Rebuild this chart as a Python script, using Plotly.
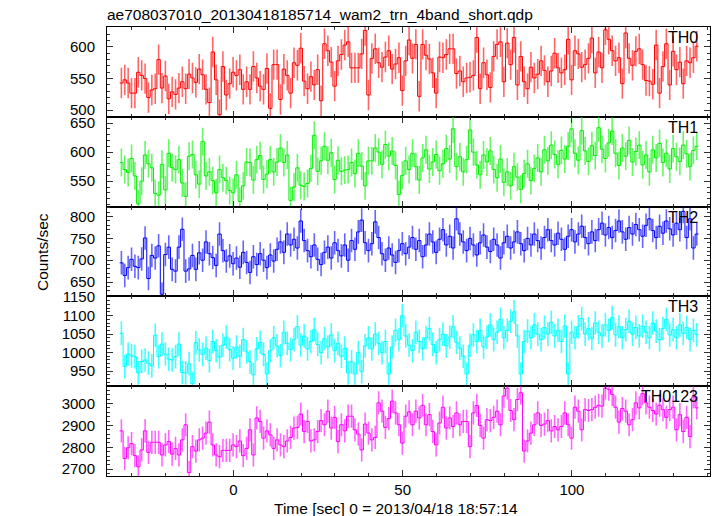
import numpy as np
import plotly.graph_objects as go
from plotly.subplots import make_subplots

# ---------------- data (1-s bins) ----------------
bin_start = -33.6
bin_width = 1.0

th0 = [543, 548, 543, 527, 527, 560, 555, 550, 520, 532,
       534, 580, 535, 554, 518, 529, 525, 535, 545, 534,
       557, 551, 544, 565, 556, 533, 512, 592, 548, 493,
       569, 524, 542, 560, 555, 564, 533, 545, 533, 569,
       551, 538, 533, 566, 503, 572, 572, 517, 565, 555,
       527, 575, 571, 598,
       546, 534, 553, 540, 564, 515, 605, 594, 576, 538,
       578, 588, 603, 608, 567, 567, 567, 589, 626, 524,
       582, 597, 575, 568, 584, 594, 565, 573, 583, 531,
       578, 611, 582, 604, 522, 604, 587, 581, 559, 527,
       584, 583, 588, 597, 597, 558, 562, 545, 551, 552,
       555, 615, 534, 575, 556, 536, 585, 604, 608, 545,
       606, 572,
       615, 540, 585, 545, 534, 568, 551, 557, 578, 563,
       545, 562, 590, 567, 559, 564, 612, 548, 594, 589,
       568, 572, 582, 614, 559, 592, 567, 627, 612, 594,
       578, 583, 542, 622, 582, 571, 593, 597, 572, 547,
       546, 541, 603, 527, 569, 605, 540, 593, 564, 576,
       542, 578, 575, 583, 601]

th1 = [582, 570, 565, 589, 559, 511, 550, 595, 580, 573,
       529, 526, 579, 535, 598, 573, 570, 587, 547, 524,
       593, 596, 561, 545, 618, 559, 566, 551, 530, 570,
       556, 551, 534, 530, 561, 515, 542, 583, 582, 552,
       587, 594, 553, 562, 587, 566, 583, 607, 582, 595,
       517, 540, 573, 543, 541, 546, 572,
       629, 567, 585, 610, 586, 599, 553, 586, 567, 569,
       570, 582, 563, 598, 576, 542, 585, 585, 607, 600,
       579, 613, 593, 602, 577, 527,
       560, 585, 570, 598, 575, 552, 590, 604, 571, 583,
       596, 568, 580, 606, 588, 640, 575, 592, 566, 587,
       638, 600, 578, 561, 595, 583, 602, 570, 556, 588,
       548, 566, 542, 575, 557, 536, 563, 580, 551, 572,
       590, 566, 604, 585, 612, 596, 579, 603, 588, 610,
       640, 598, 586, 637, 602, 584, 611, 594, 642, 605,
       589, 616, 636, 598, 577, 607, 593, 620, 583, 601,
       612, 578, 595, 566, 604, 590, 615, 582, 598, 571,
       606, 592, 584, 612, 597, 575, 603, 610]

th2 = [694, 665, 683, 702, 686, 683, 703, 751, 658, 711,
       705, 733, 622, 713, 730, 679, 675, 730, 771, 675,
       680, 711, 679, 717,
       700, 742, 715, 706, 688, 760, 722, 698, 710, 692,
       705, 684, 718, 695, 672, 708, 690, 715, 700, 683,
       712, 698, 725, 742, 718, 760, 735, 748, 728, 790,
       745, 722, 708, 735, 702, 690, 718, 730, 705, 740,
       722, 710, 735, 700, 745, 725, 765, 792, 740, 722,
       738, 788, 752, 715, 700, 728, 712, 695, 722, 738,
       715, 730, 752, 725, 745, 708, 735, 760, 742, 718,
       748, 770, 735, 755, 728, 795, 760, 742, 722, 750,
       735, 712, 740, 758, 730, 720, 748, 735, 705, 740,
       755, 728, 742, 765, 738, 722, 750, 735, 760, 745,
       728, 752, 770, 745, 735, 762, 748, 725, 755, 770,
       742, 760, 778, 752, 738, 765, 745, 770, 785, 758,
       775, 752, 768, 790, 765, 748, 775, 760, 782, 770,
       755, 780, 795, 768, 752, 778, 762, 790, 772, 758,
       785, 770, 812, 752, 795, 728, 760]

th3 = [1052, 962, 996, 991, 989, 945, 976, 980, 971, 964,
       1047, 989, 1023, 996, 982, 980, 989, 1023, 946, 945,
       970, 916, 1027, 1007,
       995, 1012, 978, 1030, 1005, 988, 1020, 1042, 1008, 985,
       1015, 990, 1035, 1002, 975, 940, 1010, 1028, 995, 942,
       1005, 1040, 1018, 992, 1055, 1025, 1008, 1035, 1070, 1020,
       1045, 1010, 1030, 1062, 1022, 1000, 1038, 1015, 1048, 1005,
       1025, 990, 1012, 945, 975, 942, 1000, 948, 1018, 1040,
       1010, 1050, 1025, 1000, 1030, 942, 1015, 1060, 1035, 1100,
       1045, 1020, 1005, 1055, 1030, 1010, 1040, 1065, 1022, 1000,
       1035, 1050, 1018, 1042, 1070, 1028, 1012, 990, 942, 1020,
       1048, 1030, 1060, 1015, 1042, 1075, 1035, 1055, 1090, 1040,
       1060, 1085, 1110, 1045, 942, 1030, 1058, 1040, 1075, 1050,
       1035, 1068, 1050, 1082, 1045, 1060, 1030, 1072, 942, 1055,
       1040, 1070, 1092, 1050, 1065, 1038, 1080, 1055, 1045, 1075,
       1060, 1095, 1048, 1070, 1040, 1062, 1085, 1050, 1068, 1045,
       1072, 1055, 1040, 1080, 1058, 1035, 1065, 1090, 1048, 1062,
       1040, 1075, 1052, 1068, 1035, 1060, 1048]

th0123 = [2875, 2749, 2798, 2817, 2762, 2711, 2788, 2875, 2777, 2823,
          2823, 2823, 2765, 2811, 2826, 2769, 2795, 2765, 2834, 2903,
          2685, 2803, 2783, 2834, 2842, 2865, 2915, 2811, 2765, 2757,
          2786, 2786, 2786, 2811, 2803, 2829, 2762, 2795, 2880, 2765,
          2934, 2918, 2842, 2875, 2857, 2795, 2834, 2811, 2803, 2829,
          2845, 2888, 2891, 2952, 2872, 2918, 2829, 2834, 2872, 2922,
          2903, 2965, 2888, 2937, 2826, 2903, 2875, 2942, 2942, 2880,
          2860, 2788, 2906, 2865, 2834, 2845, 3003, 2965, 2891, 2931,
          3011, 2957, 2903,
          2819, 2942, 2962, 2903, 2965, 2934, 2992, 2903, 2949, 2872,
          2811, 2911, 2983, 2888, 2934, 2895, 2957, 2903, 2918, 2918,
          2803, 2957, 2991, 2900, 2842, 2926, 2922, 2937, 2965, 2903,
          3034, 3070, 2968, 2926, 3018, 3049, 2783, 2829, 2865, 2903,
          2957, 2900, 2906, 2922, 2875, 2895, 2880, 2895, 2957, 2903,
          2842, 2983, 2965, 2880, 2972, 2968, 2972, 2983, 2992, 2988,
          3070, 3065, 3042, 2983, 2915, 2977, 2965, 2903, 2926, 3003,
          2980, 3045, 3003, 2983, 2968, 2952, 2992, 2972, 2937, 2972,
          2983, 2880, 2949, 2872, 2937, 2849, 3030, 2980]

# error half-widths (counts/sec)
errs = [24, 24, 27, 32, 53]

names = ["TH0", "TH1", "TH2", "TH3", "TH0123"]
series = [th0, th1, th2, th3, th0123]
colors = ["#ff0000", "#00f000", "#0000ff", "#00ffff", "#ff00ff"]
bar_colors = ["rgba(255,0,0,0.6)", "rgba(0,240,0,0.6)", "rgba(0,0,255,0.6)",
              "rgba(0,255,255,0.75)", "rgba(255,0,255,0.6)"]
y_ranges = [[489.6, 631.5], [506.3, 660.7], [617, 823], [909, 1152], [2669, 3079]]
y_dticks = [50, 50, 50, 50, 100]
y_minor = [10, 10, 10, 10, 20]
x_range = [-37.35, 140.8]

FONT = "Liberation Sans, Arial, Helvetica, sans-serif"

fig = make_subplots(rows=5, cols=1, shared_xaxes=True, vertical_spacing=0)

for i, (vals, col) in enumerate(zip(series, colors)):
    n = len(vals)
    edges = bin_start + bin_width * np.arange(n + 1)
    centers = bin_start + bin_width * (np.arange(n) + 0.5)
    step_y = list(vals) + [vals[-1]]
    fig.add_trace(go.Scatter(x=centers, y=vals, mode="markers",
                             marker=dict(size=1, color=col, opacity=0),
                             error_y=dict(type="constant", value=errs[i],
                                          color=bar_colors[i], thickness=1.6, width=0),
                             showlegend=False),
                  row=i + 1, col=1)
    fig.add_trace(go.Scatter(x=edges, y=step_y, mode="lines",
                             line=dict(shape="hv", color=col, width=1),
                             hoverinfo="skip", showlegend=False),
                  row=i + 1, col=1)

axis_line = dict(showline=True, linecolor="#000000", linewidth=1, mirror="allticks",
                 ticks="inside", ticklen=6, tickwidth=1, tickcolor="#333333",
                 showgrid=False, zeroline=False)

for i in range(5):
    r = i + 1
    fig.update_xaxes(range=x_range, dtick=50, tick0=0,
                     minor=dict(dtick=10, ticklen=3, ticks="inside", tickcolor="#333333"),
                     row=r, col=1, **axis_line)
    fig.update_yaxes(range=y_ranges[i], dtick=y_dticks[i], tick0=0,
                     minor=dict(dtick=y_minor[i], ticklen=3, ticks="inside", tickcolor="#333333"),
                     ticklabelstandoff=8, tickfont=dict(size=15),
                     row=r, col=1, **axis_line)
    yname = "y" if r == 1 else f"y{r}"
    xname = "x" if r == 1 else f"x{r}"
    fig.add_annotation(text=names[i], xref=f"{xname} domain", yref=f"{yname} domain",
                       x=0.984, y=1.0, xanchor="right", yanchor="top",
                       showarrow=False, font=dict(size=16, color="#000000", family=FONT))

fig.update_xaxes(showticklabels=True, tickfont=dict(size=15), row=5, col=1)

fig.add_annotation(text="Counts/sec", xref="paper", yref="paper", x=-0.107, y=0.5,
                   xanchor="center", yanchor="middle", textangle=-90, showarrow=False,
                   font=dict(size=15.5, color="#000000", family=FONT))
fig.add_annotation(text="Time [sec] 0 = 2013/04/18 18:57:14", xref="paper", yref="paper",
                   x=0.48, y=-0.0713, xanchor="center", yanchor="middle", showarrow=False,
                   font=dict(size=15.5, color="#000000", family=FONT))

fig.update_layout(
    width=717, height=516,
    margin=dict(l=106.7, r=6.5, t=27.3, b=40, autoexpand=False),
    paper_bgcolor="#ffffff", plot_bgcolor="#ffffff",
    font=dict(family=FONT, size=15.5, color="#000000"),
    title=dict(text="ae708037010_20130418185714_wam2_trn_4band_short.qdp",
               xref="paper", x=0, xanchor="left",
               yref="container", y=1 - 15 / 516, yanchor="middle",
               font=dict(size=15.5, color="#000000", family=FONT)),
    showlegend=False,
    hovermode=False,
)

# remove the browser's default 8px page margin so the figure fills the window
fig.write_html("out.html", config={"displayModeBar": False, "staticPlot": True},
               post_script="document.body.style.margin='0px';")
